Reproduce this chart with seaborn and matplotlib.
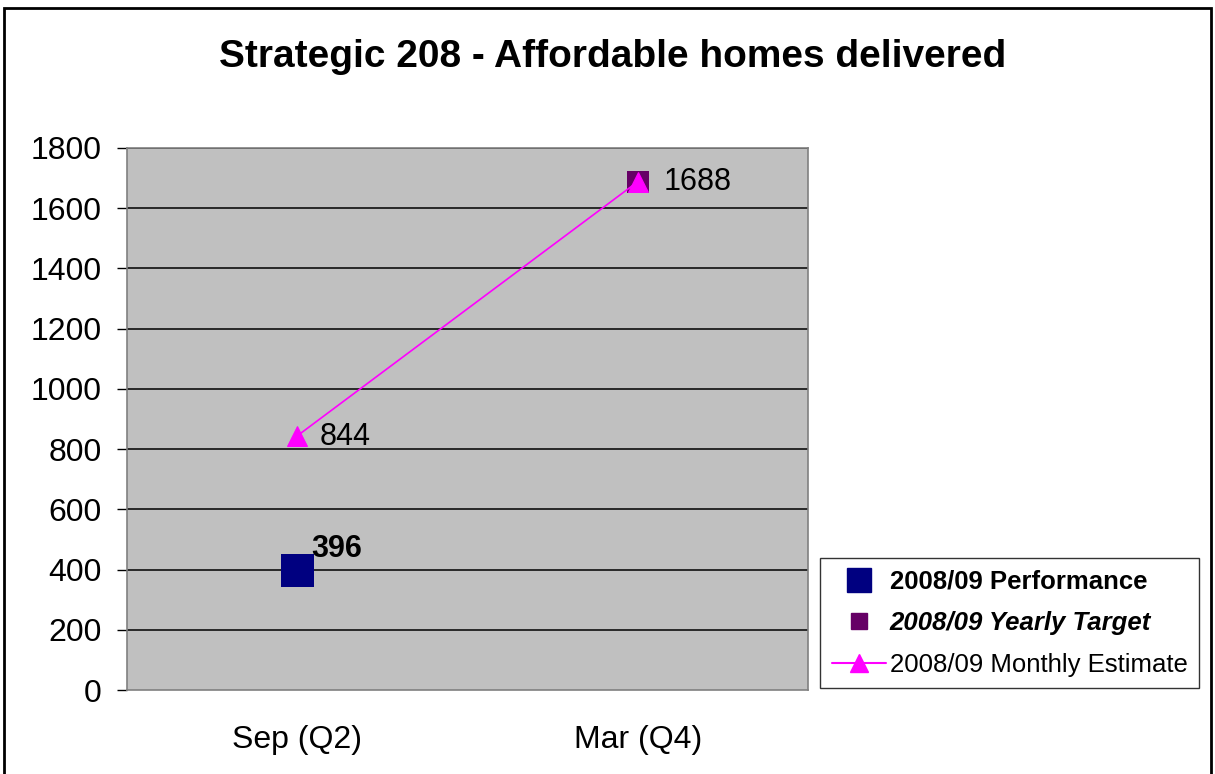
import numpy as np
import pandas as pd
import matplotlib
matplotlib.use("Agg")
import matplotlib.pyplot as plt
import seaborn as sns
from matplotlib.lines import Line2D
from matplotlib.patches import Rectangle

# data
categories = ["Sep (Q2)", "Mar (Q4)"]
performance = [396, np.nan]
yearly_target = [np.nan, 1688]
monthly_estimate = [844, 1688]

df = pd.DataFrame({
    "period": categories,
    "pos": [0, 1],
    "performance": performance,
    "target": yearly_target,
    "estimate": monthly_estimate,
})

sns.set_style("white")
plt.rcParams["font.family"] = ["Liberation Sans", "DejaVu Sans"]
plt.rcParams["text.color"] = "black"
plt.rcParams["xtick.color"] = "black"
plt.rcParams["ytick.color"] = "black"

fig = plt.figure(figsize=(12.15, 7.74), dpi=100)
ax = fig.add_axes([0.1045, 0.1085, 0.5605, 0.7003])
ax.set_facecolor("#C0C0C0")

# horizontal gridlines
ax.set_ylim(0, 1800)
ax.set_xlim(-0.5, 1.5)
ax.set_yticks(np.arange(0, 1801, 200))
for y in np.arange(200, 1801, 200):
    ax.axhline(y, color="black", lw=1.1, zorder=1)

sns.lineplot(data=df, x="pos", y="estimate", color="#FF00FF", lw=1.2,
             marker="^", markersize=15, markeredgecolor="#FF00FF",
             ax=ax, zorder=4, legend=False)
sns.scatterplot(data=df, x="pos", y="performance", color="#000080", marker="s",
                s=560, edgecolor="none", ax=ax, zorder=3, legend=False)
sns.scatterplot(data=df, x="pos", y="target", color="#660066", marker="s",
                s=260, edgecolor="none", ax=ax, zorder=3, legend=False)

# data labels
ax.annotate("844", (0, monthly_estimate[0]), xytext=(16, -1), textcoords="offset points",
            fontsize=22, va="center", ha="left")
ax.annotate("1688", (1, monthly_estimate[1]), xytext=(19, 0), textcoords="offset points",
            fontsize=22, va="center", ha="left")
ax.annotate("396", (0, performance[0]), xytext=(10, 16), textcoords="offset points",
            fontsize=22, fontweight="bold", va="center", ha="left")

ax.set_xlabel("")
ax.set_ylabel("")
ax.set_xticks([0, 1])
ax.set_xticklabels(categories)
ax.set_xticks([-0.5, 0.5, 1.5], minor=True)
ax.tick_params(axis="x", which="major", length=0, pad=25, labelsize=23)
ax.tick_params(axis="x", which="minor", length=7, width=1, color="black", direction="out")
ax.tick_params(axis="y", length=7, width=1, color="black", direction="out", left=True,
               labelsize=23, pad=11)
for side in ["top", "right", "left", "bottom"]:
    ax.spines[side].set_color("#808080")
    ax.spines[side].set_linewidth(1.2)

fig.suptitle("Strategic 208 - Affordable homes delivered", x=0.504, y=0.926,
             va="center", fontsize=28, fontweight="bold")

# legend
handles = [
    Line2D([], [], ls="none", marker="s", markersize=17, color="#000080"),
    Line2D([], [], ls="none", marker="s", markersize=11, color="#660066"),
    Line2D([], [], color="#FF00FF", lw=1.5, marker="^", markersize=13),
]
labels = ["2008/09 Performance", "2008/09 Yearly Target", "2008/09 Monthly Estimate"]
leg = fig.legend(handles, labels, loc="lower left", bbox_to_anchor=(0.675, 0.111),
                 frameon=True, fancybox=False, edgecolor="black", fontsize=18.5,
                 handlelength=2.1, handletextpad=0.15, borderpad=0.45, labelspacing=0.68,
                 borderaxespad=0)
leg.get_frame().set_linewidth(1.0)
texts = leg.get_texts()
texts[0].set_fontweight("bold")
texts[1].set_fontweight("bold")
texts[1].set_fontstyle("italic")

# outer border of the chart
fig.patches.append(Rectangle((0.003, -0.01), 0.994, 1.0, transform=fig.transFigure,
                             fill=False, edgecolor="black", lw=2))

fig.savefig("out.png", dpi=100)
